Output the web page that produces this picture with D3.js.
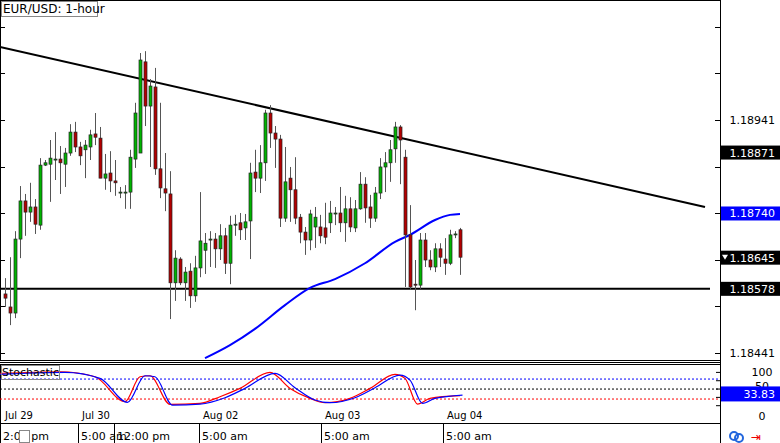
<!DOCTYPE html>
<html><head><meta charset="utf-8">
<script src="https://cdn.jsdelivr.net/npm/d3@7"></script>
<style>body{margin:0;background:#fff;}svg{display:block;font-family:Tahoma,"DejaVu Sans",sans-serif;}</style>
</head><body><div id="chart"></div>
<script>
// hourly candles
var opens  = [1.18567,1.18539,1.18526,1.18685,1.18767,1.18743,1.18754,1.18715,1.18844,1.18846,1.18857,1.18857,1.18846,1.18870,1.18915,1.18883,1.18877,1.18883,1.18911,1.18902,1.18816,1.18827,1.18810,1.18786,1.18786,1.18786,1.18857,1.18870,1.19066,1.18971,1.19012,1.18836,1.18793,1.18782,1.18591,1.18642,1.18591,1.18616,1.18563,1.18623,1.18661,1.18685,1.18685,1.18664,1.18692,1.18633,1.18717,1.18720,1.18709,1.18724,1.18829,1.18816,1.18849,1.18956,1.18913,1.18900,1.18730,1.18816,1.18791,1.18732,1.18700,1.18683,1.18711,1.18711,1.18709,1.18720,1.18741,1.18741,1.18720,1.18750,1.18709,1.18750,1.18803,1.18754,1.18730,1.18784,1.18840,1.18849,1.18879,1.18926,1.18861,1.18694,1.18588,1.18586,1.18683,1.18640,1.18625,1.18664,1.18642,1.18633,1.18696,1.18705];
var closes = [1.18558,1.18526,1.18685,1.18767,1.18743,1.18754,1.18717,1.18844,1.18849,1.18859,1.18857,1.18849,1.18870,1.18915,1.18883,1.18864,1.18887,1.18909,1.18904,1.18816,1.18825,1.18810,1.18806,1.18786,1.18786,1.18861,1.18956,1.19070,1.18971,1.19014,1.18836,1.18795,1.18784,1.18591,1.18644,1.18591,1.18614,1.18563,1.18623,1.18681,1.18676,1.18685,1.18664,1.18692,1.18633,1.18715,1.18717,1.18705,1.18722,1.18827,1.18816,1.18849,1.18956,1.18913,1.18900,1.18730,1.18808,1.18791,1.18730,1.18700,1.18683,1.18739,1.18732,1.18692,1.18689,1.18741,1.18741,1.18720,1.18750,1.18711,1.18750,1.18803,1.18752,1.18730,1.18784,1.18840,1.18849,1.18877,1.18926,1.18898,1.18694,1.18582,1.18586,1.18683,1.18640,1.18625,1.18664,1.18646,1.18633,1.18694,1.18696,1.18646];
var highs  = [1.18601,1.18646,1.18702,1.18799,1.18782,1.18806,1.18771,1.18859,1.18855,1.18898,1.18915,1.18885,1.18881,1.18932,1.18937,1.18894,1.18898,1.18920,1.18956,1.18926,1.18868,1.18874,1.18855,1.18797,1.18801,1.18877,1.18978,1.19085,1.19089,1.19029,1.19053,1.18978,1.18870,1.18831,1.18661,1.18646,1.18625,1.18633,1.18649,1.18786,1.18698,1.18702,1.18698,1.18717,1.18709,1.18735,1.18737,1.18741,1.18739,1.18849,1.18877,1.18887,1.18963,1.18973,1.18928,1.18909,1.18883,1.18840,1.18861,1.18739,1.18711,1.18748,1.18754,1.18737,1.18763,1.18767,1.18754,1.18797,1.18778,1.18775,1.18769,1.18829,1.18818,1.18780,1.18797,1.18859,1.18872,1.18898,1.18937,1.18930,1.18877,1.18758,1.18640,1.18698,1.18698,1.18661,1.18676,1.18676,1.18687,1.18705,1.18702,1.18709];
var lows   = [1.18539,1.18500,1.18515,1.18644,1.18692,1.18722,1.18696,1.18705,1.18842,1.18765,1.18812,1.18782,1.18797,1.18864,1.18872,1.18844,1.18816,1.18855,1.18887,1.18816,1.18791,1.18786,1.18778,1.18773,1.18750,1.18750,1.18838,1.18926,1.18928,1.18840,1.18823,1.18773,1.18745,1.18513,1.18552,1.18586,1.18552,1.18537,1.18550,1.18603,1.18610,1.18625,1.18623,1.18640,1.18610,1.18588,1.18692,1.18683,1.18683,1.18642,1.18786,1.18784,1.18810,1.18881,1.18838,1.18711,1.18722,1.18722,1.18717,1.18676,1.18651,1.18661,1.18666,1.18676,1.18674,1.18698,1.18715,1.18700,1.18679,1.18700,1.18700,1.18748,1.18720,1.18709,1.18722,1.18771,1.18786,1.18808,1.18849,1.18803,1.18582,1.18576,1.18532,1.18578,1.18625,1.18618,1.18614,1.18625,1.18608,1.18629,1.18687,1.18608];

// moving average (blue), [bar index, price]
var maIdx = [41,46,51,57,62,67,73,79,82,87,90,92];
var maVal = [1.18429,1.18457,1.18492,1.18543,1.18580,1.18599,1.18633,1.18679,1.18694,1.18726,1.18737,1.18739];

// stochastic %K (red) and %D (blue)
var kIdx = [0,12,19,25,28,30,34,40,44,48,54,58,62,65,70,74,79,81,83.5,86,92];
var kVal = [97,102,87,12,87,90,4,7,27,52,100,52,22,9,22,52,94,82,5,22,30];
var dIdx = [0,13,20,25.5,29,31,34.5,40,45,49,55,59,63,66,71,75,80,82,84.5,87,92.5];
var dVal = [94,100,82,10,90,87,2,5,24,52,97,54,17,9,24,54,92,77,7,22,32];

var trendStart = 1.19098, trendEnd = 1.18754;
var support = 1.18578;
var priceTicks = [1.19141,1.19041,1.18941,1.18841,1.18741,1.18641,1.18541,1.18441];
var priceLabels = [1.18941,1.18441];
var tags = [{v:1.18871,c:"#000"},{v:1.18740,c:"#0000ff"},{v:1.18645,c:"#000"},{v:1.18578,c:"#000"}];
var dateLabels = [["Jul 29",1],["Jul 30",16.4],["Aug 02",40.6],["Aug 03",65],["Aug 04",89.4]];
var timeLabels = [["2:00 pm",0.6],["5:00 am",16.1],["12:00 pm",23.3],["5:00 am",40.4],["5:00 am",64.8],["5:00 am",89.2]];

var W = 780, H = 443, plotR = 720;
var svg = d3.select("#chart").append("svg").attr("width", W).attr("height", H);

var x = d3.scaleLinear().domain([1, 92]).range([5, 460]);
var y = d3.scaleLinear().domain([1.18425, 1.19199]).range([360, 0]);
var ys = d3.scaleLinear().domain([0, 100]).range([405.7, 372.4]);

// frames
svg.append("rect").attr("x",0.5).attr("y",0.5).attr("width",plotR).attr("height",360).attr("fill","none").attr("stroke","#000");
svg.append("rect").attr("x",0.5).attr("y",364.5).attr("width",plotR).attr("height",59).attr("fill","none").attr("stroke","#000");
svg.append("line").attr("x1",0).attr("x2",plotR).attr("y1",362.5).attr("y2",362.5).attr("stroke","#000");

// price axis ticks
priceTicks.forEach(function(p){
	svg.append("line").attr("x1",plotR-5).attr("x2",plotR).attr("y1",Math.round(y(p))+0.5).attr("y2",Math.round(y(p))+0.5).attr("stroke","#000");
	svg.append("line").attr("x1",0).attr("x2",5).attr("y1",Math.round(y(p))+0.5).attr("y2",Math.round(y(p))+0.5).attr("stroke","#000");
});
priceLabels.forEach(function(p){
	svg.append("text").attr("x",775).attr("y",y(p)+4).attr("text-anchor","end").attr("font-size",11).attr("fill","#000").text(p.toFixed(5));
});

// trend lines
svg.append("line").attr("x1",0).attr("y1",y(trendStart)).attr("x2",705).attr("y2",y(trendEnd)).attr("stroke","#000").attr("stroke-width",2);
svg.append("line").attr("x1",0).attr("y1",y(support)).attr("x2",710).attr("y2",y(support)).attr("stroke","#000").attr("stroke-width",2);

// moving average
var maLine = d3.line().x(function(d){return x(d[0]);}).y(function(d){return y(d[1]);}).curve(d3.curveMonotoneX);
svg.append("path").datum(d3.zip(maIdx, maVal)).attr("d", maLine).attr("fill","none").attr("stroke","#0000ff").attr("stroke-width",2);

// candles
var bars = d3.range(opens.length);
var g = svg.append("g");
g.selectAll("line.wick").data(bars).enter().append("line")
	.attr("x1",function(i){return Math.round(x(i+1))+0.5;}).attr("x2",function(i){return Math.round(x(i+1))+0.5;})
	.attr("y1",function(i){return y(highs[i]);}).attr("y2",function(i){return y(lows[i]);})
	.attr("stroke","#555").attr("stroke-width",1);
g.selectAll("rect").data(bars).enter().append("rect")
	.attr("x",function(i){return Math.round(x(i+1))-1;})
	.attr("width",3)
	.attr("y",function(i){return y(Math.max(opens[i],closes[i]));})
	.attr("height",function(i){return Math.max(1, Math.abs(y(opens[i])-y(closes[i])));})
	.attr("fill",function(i){return closes[i]>=opens[i] ? "#00b400" : "#b40000";})
	.attr("stroke","#222").attr("stroke-width",0.7);

// price tags
tags.forEach(function(t){
	svg.append("rect").attr("x",plotR+1).attr("y",y(t.v)-7).attr("width",W-plotR).attr("height",14).attr("fill",t.c);
	svg.append("text").attr("x",775).attr("y",y(t.v)+4).attr("text-anchor","end").attr("font-size",11).attr("fill","#fff").text(t.v.toFixed(5));
});
svg.append("path").attr("d","M722,"+(y(1.18645)-3)+"h6l-3,5z").attr("fill","#fff");
svg.append("line").attr("x1",plotR+0.5).attr("x2",plotR+0.5).attr("y1",0).attr("y2",H).attr("stroke","#000");

// title box
svg.append("rect").attr("x",1.5).attr("y",1.5).attr("width",96).attr("height",15).attr("fill","#fff").attr("stroke","#888");
svg.append("text").attr("x",3).attr("y",13).attr("font-size",12).attr("fill","#000").text("EUR/USD: 1-hour");

// stochastic levels
[[80,"#0000ff"],[50,"#000"],[20,"#ff0000"]].forEach(function(l){
	svg.append("line").attr("x1",0).attr("x2",plotR).attr("y1",ys(l[0])).attr("y2",ys(l[0])).attr("stroke",l[1]).attr("stroke-dasharray","2,2");
});
var sLine = d3.line().x(function(d){return x(d[0]);}).y(function(d){return ys(d[1]);}).curve(d3.curveMonotoneX);
svg.append("path").datum(d3.zip(kIdx,kVal)).attr("d",sLine).attr("fill","none").attr("stroke","#ff0000").attr("stroke-width",1.2);
svg.append("path").datum(d3.zip(dIdx,dVal)).attr("d",sLine).attr("fill","none").attr("stroke","#0000ff").attr("stroke-width",1.2);
[0,25,50,75,100].forEach(function(v){
	svg.append("line").attr("x1",plotR-4).attr("x2",plotR).attr("y1",ys(v)).attr("y2",ys(v)).attr("stroke","#000");
});
svg.append("text").attr("x",762).attr("y",ys(100)+4).attr("text-anchor","middle").attr("font-size",11).text("100");
svg.append("text").attr("x",762).attr("y",ys(50)+1).attr("text-anchor","middle").attr("font-size",11).text("50");
svg.append("text").attr("x",762).attr("y",420).attr("text-anchor","middle").attr("font-size",11).text("0");
svg.append("rect").attr("x",plotR+1).attr("y",ys(33.83)-8).attr("width",W-plotR).attr("height",15).attr("fill","#0000ff");
svg.append("text").attr("x",775).attr("y",ys(33.83)+4).attr("text-anchor","end").attr("font-size",11).attr("fill","#fff").text("33.83");
svg.append("rect").attr("x",1.5).attr("y",365.5).attr("width",58).attr("height",14).attr("fill","none").attr("stroke","#888");
svg.append("text").attr("x",2).attr("y",376).attr("font-size",11).text("Stochastic");

// time axis
dateLabels.forEach(function(d){
	svg.append("text").attr("x",x(d[1])).attr("y",419).attr("font-size",10).text(d[0]);
});
timeLabels.forEach(function(d){
	var px = Math.round(x(d[1]));
	svg.append("line").attr("x1",px-2.5).attr("x2",px-2.5).attr("y1",424).attr("y2",H).attr("stroke","#000");
	svg.append("text").attr("x",px).attr("y",440).attr("font-size",11).text(d[0]);
});
svg.append("rect").attr("x",19.5).attr("y",430.5).attr("width",10).attr("height",12).attr("fill","#fff").attr("stroke","#888");

// corner icons
svg.append("circle").attr("cx",734).attr("cy",436).attr("r",4).attr("fill","none").attr("stroke","#2266dd").attr("stroke-width",2);
svg.append("circle").attr("cx",739).attr("cy",438).attr("r",4).attr("fill","none").attr("stroke","#2266dd").attr("stroke-width",2);
svg.append("text").attr("x",751).attr("y",441).attr("font-size",12).attr("fill","#e00").text("⇥");
</script></body></html>
